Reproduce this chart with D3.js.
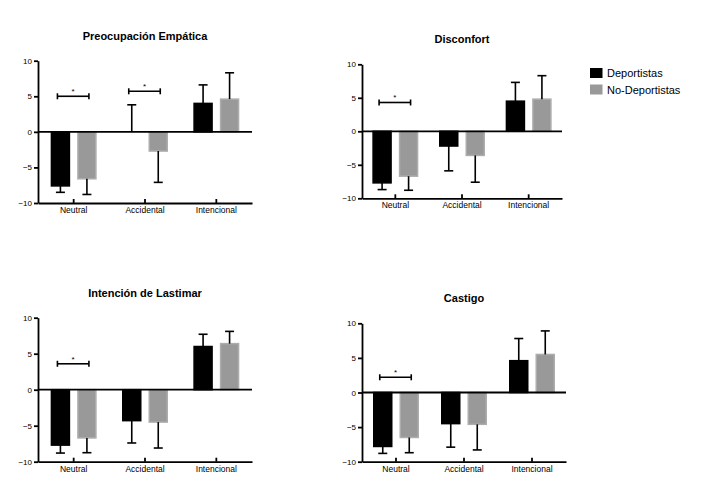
<!DOCTYPE html>
<html>
<head>
<meta charset="utf-8">
<script src="https://cdn.jsdelivr.net/npm/d3@7"></script>
<style>
  body { margin: 0; background: #fff; }
  svg { font-family: "Liberation Sans", Arial, Helvetica, sans-serif; }
</style>
</head>
<body>
<div id="chart"></div>
<script>
// data
const categories = ["Neutral", "Accidental", "Intencional"]
const series = ["Deportistas", "No-Deportistas"]
const panelTitles = ["Preocupación Empática", "Disconfort", "Intención de Lastimar", "Castigo"]
const yTicks = [-10, -5, 0, 5, 10]

// one row per panel, one value per category
const depMeans   = [[-7.6, 0.0, 4.0], [-7.7, -2.2, 4.5], [-7.7, -4.3, 6.0], [-7.8, -4.5, 4.6]]
const depErrors  = [[0.9, 3.8, 2.6],  [1.0, 3.7, 2.8],   [1.1, 3.1, 1.7],   [1.0, 3.4, 3.2]]
const noDepMeans  = [[-6.6, -2.7, 4.6], [-6.7, -3.6, 4.8], [-6.7, -4.5, 6.4], [-6.5, -4.6, 5.5]]
const noDepErrors = [[2.2, 4.4, 3.7],   [2.1, 4.0, 3.5],   [2.05, 3.6, 1.7],  [2.2, 3.7, 3.4]]

// significance brackets (category, height)
const sigCats   = [["Neutral", "Accidental"], ["Neutral"], ["Neutral"], ["Neutral"]]
const sigLevels = [[5.0, 5.7], [4.3], [3.6], [2.2]]

const width = 710
const height = 499

// plot boxes for the 2x2 grid
const boxes = [
  {x0: 38,  x1: 252, yTop: 60.7,  yBot: 203},
  {x0: 362, x1: 562, yTop: 64.3,  yBot: 198.3},
  {x0: 38,  x1: 252, yTop: 317.7, yBot: 461.7},
  {x0: 362, x1: 566, yTop: 323.3, yBot: 461.7}
]

const colors = {"Deportistas": "#000000", "No-Deportistas": "#999999"}
const strokes = {"Deportistas": "#000000", "No-Deportistas": "#adadad"}

const svg = d3.select("#chart")
  .append("svg")
  .attr("width", width)
  .attr("height", height)

boxes.forEach((b, p) => {
  const g = svg.append("g")

  const x = d3.scaleBand()
    .domain(categories)
    .range([b.x0, b.x1])

  const xs = d3.scaleBand()
    .domain(series)
    .range([-23, 23])
    .paddingInner(0.264)

  const y = d3.scaleLinear()
    .domain([-10, 10])
    .range([b.yBot, b.yTop])

  const rows = []
  categories.forEach((c, i) => {
    rows.push({cat: c, s: "Deportistas", v: depMeans[p][i], e: depErrors[p][i]})
    rows.push({cat: c, s: "No-Deportistas", v: noDepMeans[p][i], e: noDepErrors[p][i]})
  })

  const cx = d => x(d.cat) + x.bandwidth() / 2 + xs(d.s)

  // bars
  g.selectAll("rect.bar")
    .data(rows)
    .join("rect")
    .attr("class", "bar")
    .attr("x", d => cx(d) + 0.75)
    .attr("width", xs.bandwidth() - 1.5)
    .attr("y", d => y(Math.max(0, d.v)))
    .attr("height", d => Math.abs(y(d.v) - y(0)))
    .attr("fill", d => colors[d.s])
    .attr("stroke", d => strokes[d.s])
    .attr("stroke-width", 1.5)

  // error bars (outward only)
  const tip = d => d.v >= 0 ? d.v + d.e : d.v - d.e
  const mid = d => cx(d) + xs.bandwidth() / 2
  g.selectAll("line.err")
    .data(rows)
    .join("line")
    .attr("class", "err")
    .attr("x1", mid).attr("x2", mid)
    .attr("y1", d => y(d.v))
    .attr("y2", d => y(tip(d)))
    .attr("stroke", "#000")
    .attr("stroke-width", 1.6)
  g.selectAll("line.cap")
    .data(rows)
    .join("line")
    .attr("class", "cap")
    .attr("x1", d => mid(d) - 4.5).attr("x2", d => mid(d) + 4.5)
    .attr("y1", d => y(tip(d)))
    .attr("y2", d => y(tip(d)))
    .attr("stroke", "#000")
    .attr("stroke-width", 1.6)

  // zero line
  g.append("line")
    .attr("x1", b.x0).attr("x2", b.x1)
    .attr("y1", y(0)).attr("y2", y(0))
    .attr("stroke", "#000")
    .attr("stroke-width", 1.8)

  // Y axis
  const ya = g.append("g")
    .attr("transform", `translate(${b.x0},0)`)
    .call(d3.axisLeft(y).tickValues(yTicks).tickSize(4).tickSizeOuter(0).tickPadding(2))
  ya.selectAll("path, line").attr("stroke-width", 1.8)
  ya.selectAll("text").style("font-size", "8px").attr("fill", "#000")

  // X axis
  const xa = g.append("g")
    .attr("transform", `translate(0,${b.yBot})`)
    .call(d3.axisBottom(x).tickSize(-4).tickSizeOuter(0).tickPadding(4))
  xa.selectAll("path, line").attr("stroke-width", 1.8)
  xa.selectAll("text").style("font-size", "8.5px").attr("fill", "#000")

  // significance brackets
  sigCats[p].forEach((c, k) => {
    const xl = x(c) + x.bandwidth() / 2 + xs("Deportistas") + xs.bandwidth() / 2 - 3
    const xr = x(c) + x.bandwidth() / 2 + xs("No-Deportistas") + xs.bandwidth() / 2 + 2
    const yy = y(sigLevels[p][k])
    g.append("line").attr("x1", xl).attr("x2", xr).attr("y1", yy).attr("y2", yy)
      .attr("stroke", "#000").attr("stroke-width", 1.6)
    ;[xl, xr].forEach(xe => {
      g.append("line").attr("x1", xe).attr("x2", xe).attr("y1", yy - 3).attr("y2", yy + 3)
        .attr("stroke", "#000").attr("stroke-width", 1.6)
    })
    g.append("text")
      .attr("x", (xl + xr) / 2)
      .attr("y", yy - 2)
      .attr("text-anchor", "middle")
      .style("font-size", "8px")
      .text("*")
  })

  // title
  g.append("text")
    .attr("x", (b.x0 + b.x1) / 2)
    .attr("y", b.yTop - 21)
    .attr("text-anchor", "middle")
    .style("font-size", "11px")
    .style("font-weight", "bold")
    .text(panelTitles[p])
})

// legend
const legend = svg.append("g")
  .attr("transform", "translate(590,68)")
series.forEach((s, i) => {
  legend.append("rect")
    .attr("x", 0)
    .attr("y", i * 16.5)
    .attr("width", 12.5)
    .attr("height", 10)
    .attr("fill", colors[s])
  legend.append("text")
    .attr("x", 17)
    .attr("y", i * 16.5 + 9.3)
    .style("font-size", "11px")
    .text(s)
})
</script>
</body>
</html>
